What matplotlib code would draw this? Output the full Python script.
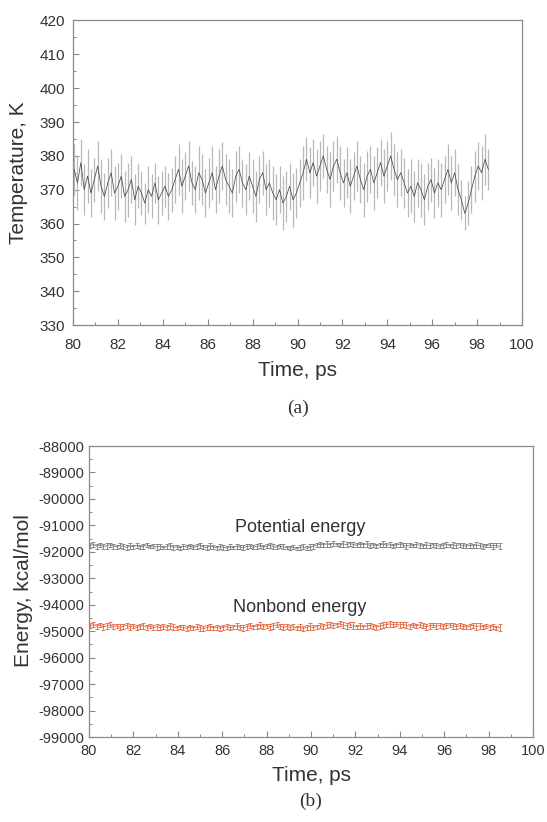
import numpy as np
import matplotlib
matplotlib.use("Agg")
import matplotlib.pyplot as plt
from matplotlib.ticker import MultipleLocator

# ---------------- data ----------------
time_ps = np.round(80.05 + 0.15 * np.arange(124), 3)

temp_mean = [
    376, 372, 378, 370, 374, 369, 373, 377, 371, 368,
    372, 375, 369, 371, 374, 368, 370, 373, 367, 371,
    369, 366, 370, 368, 372, 367, 369, 371, 368, 370,
    373, 376, 371, 374, 377, 372, 370, 375, 373, 369,
    372, 375, 370, 374, 377, 373, 371, 369, 374, 376,
    372, 370, 374, 371, 368, 373, 375, 370, 372, 369,
    367, 370, 366, 368, 371, 367, 369, 372, 375, 379,
    375, 378, 374, 377, 380, 376, 373, 377, 379, 375,
    372, 375, 371, 374, 377, 373, 370, 374, 376, 372,
    375, 378, 374, 377, 380, 376, 373, 375, 372, 369,
    371, 368, 372, 370, 367, 371, 373, 369, 372, 370,
    373, 376, 372, 375, 370, 367, 363, 366, 370, 374,
    377, 375, 379, 376,
]
temp_err = [
    7.5, 8, 7, 7.5, 8, 7, 6.5, 7.5, 8, 7,
    7.5, 7, 8, 7, 6.5, 7.5, 8, 7, 7.5, 6.5,
    6.5, 6, 7, 6.5, 6, 7, 6.5, 6, 7, 6.5,
    7, 7.5, 8, 7, 7.5, 6.5, 7, 8, 7.5, 7,
    7.5, 8, 7, 8, 7, 7.5, 8, 7, 7.5, 7,
    7, 7.5, 7, 8, 7.5, 7, 6.5, 7.5, 7, 8,
    7.5, 7, 8, 7.5, 7, 8, 7.5, 7, 8, 6.5,
    7.5, 7, 8, 7.5, 6.5, 7, 8, 7.5, 7, 8,
    7, 7.5, 8, 7, 7.5, 7, 8, 7.5, 7, 8,
    7.5, 7, 8, 7.5, 7, 7.5, 8, 7, 7.5, 7,
    8, 7.5, 7, 8, 7.5, 7, 6.5, 7.5, 7, 8,
    7, 7.5, 8, 7, 7.5, 6, 5, 6.5, 7, 7.5,
    7, 8, 7.5, 6,
]

potential_mean = [
    -91760, -91720, -91790, -91740, -91800, -91770, -91730, -91790, -91810, -91760,
    -91800, -91830, -91780, -91810, -91760, -91820, -91790, -91740, -91800, -91780,
    -91820, -91790, -91840, -91800, -91770, -91830, -91810, -91850, -91790, -91820,
    -91780, -91830, -91800, -91760, -91810, -91840, -91790, -91820, -91850, -91800,
    -91830, -91860, -91810, -91840, -91790, -91820, -91850, -91800, -91780, -91830,
    -91800, -91770, -91820, -91790, -91760, -91800, -91830, -91780, -91810, -91840,
    -91860, -91820, -91880, -91840, -91810, -91860, -91830, -91790, -91750, -91720,
    -91740, -91700, -91730, -91680, -91720, -91750, -91700, -91730, -91690, -91720,
    -91750, -91710, -91740, -91700, -91760, -91730, -91770, -91740, -91710, -91750,
    -91730, -91770, -91740, -91710, -91750, -91780, -91740, -91760, -91720, -91750,
    -91780, -91740, -91770, -91730, -91760, -91790, -91750, -91720, -91760, -91740,
    -91770, -91730, -91760, -91790, -91750, -91780, -91740, -91770, -91800, -91760,
    -91740, -91780, -91750, -91790,
]
potential_err = [
    90, 80, 100, 70, 90, 110, 80, 90, 70, 100,
    80, 90, 110, 70, 90, 80, 100, 90, 70, 80,
    100, 90, 70, 80, 110, 90, 80, 70, 100, 90,
    80, 70, 90, 100, 80, 90, 110, 70, 80, 90,
    100, 80, 90, 70, 100, 80, 90, 110, 80, 70,
    90, 100, 80, 70, 90, 110, 80, 90, 100, 70,
    80, 90, 70, 100, 90, 80, 110, 90, 70, 80,
    90, 100, 80, 90, 70, 80, 100, 90, 80, 110,
    70, 90, 80, 100, 90, 70, 80, 90, 110, 80,
    100, 80, 70, 90, 80, 100, 90, 70, 80, 90,
    80, 110, 90, 70, 100, 80, 90, 80, 70, 100,
    90, 80, 100, 70, 90, 80, 110, 90, 80, 70,
    90, 100, 80, 110,
]

nonbond_mean = [
    -94790, -94750, -94820, -94770, -94840, -94800, -94760, -94830, -94790, -94850,
    -94810, -94780, -94840, -94800, -94860, -94820, -94790, -94850, -94810, -94870,
    -94830, -94870, -94820, -94860, -94800, -94840, -94880, -94830, -94860, -94900,
    -94850, -94880, -94830, -94870, -94910, -94860, -94830, -94880, -94850, -94890,
    -94860, -94820, -94870, -94840, -94800, -94850, -94880, -94830, -94790, -94840,
    -94810, -94770, -94820, -94790, -94840, -94800, -94760, -94810, -94850, -94820,
    -94860, -94830, -94880, -94850, -94900, -94860, -94820, -94870, -94830, -94790,
    -94820, -94780, -94750, -94790, -94760, -94720, -94770, -94800, -94760, -94790,
    -94830, -94800, -94840, -94810, -94780, -94820, -94850, -94800, -94770, -94750,
    -94720, -94760, -94730, -94770, -94740, -94780, -94810, -94770, -94800, -94760,
    -94790, -94830, -94800, -94770, -94810, -94780, -94820, -94790, -94760, -94800,
    -94830, -94790, -94820, -94850, -94810, -94780, -94820, -94800, -94840, -94810,
    -94850, -94820, -94880, -94860,
]
nonbond_err = [
    100, 90, 110, 80, 100, 120, 90, 100, 80, 110,
    90, 100, 120, 80, 100, 90, 110, 100, 80, 90,
    110, 100, 80, 90, 120, 100, 90, 80, 110, 100,
    90, 80, 100, 110, 90, 100, 120, 80, 90, 100,
    110, 90, 100, 80, 110, 90, 100, 120, 90, 80,
    100, 110, 90, 80, 100, 120, 90, 100, 110, 80,
    90, 100, 80, 110, 100, 90, 120, 100, 80, 90,
    100, 110, 90, 100, 80, 90, 110, 100, 90, 120,
    80, 100, 90, 110, 100, 80, 90, 100, 120, 90,
    110, 90, 80, 100, 90, 110, 100, 80, 90, 100,
    90, 120, 100, 80, 110, 90, 100, 90, 80, 110,
    100, 90, 110, 80, 100, 90, 120, 100, 90, 80,
    100, 110, 90, 120,
]

xticks = [80, 82, 84, 86, 88, 90, 92, 94, 96, 98, 100]
temp_yticks = [330, 340, 350, 360, 370, 380, 390, 400, 410, 420]
energy_yticks = [-99000, -98000, -97000, -96000, -95000, -94000, -93000,
                 -92000, -91000, -90000, -89000, -88000]

# ---------------- style ----------------
plt.rcParams['font.family'] = ['Liberation Sans', 'DejaVu Sans']
plt.rcParams['axes.unicode_minus'] = False
SPINE = '#8a8a8a'
TXT = '#333333'
W, H = 547, 822

fig = plt.figure(figsize=(W/100, H/100), dpi=100)
ax1 = fig.add_axes([73/W, 1-325/H, (522-73)/W, (325-20.5)/H])
ax2 = fig.add_axes([89/W, 1-737/H, (533-89)/W, (737-446)/H])


def style(ax, xpad, ypad, size):
    for s in ax.spines.values():
        s.set_color(SPINE)
        s.set_linewidth(0.9)
    ax.tick_params(which='both', direction='in', colors=SPINE,
                   labelcolor=TXT, labelsize=size, top=False, right=False)
    ax.tick_params(which='major', length=4, width=0.8)
    ax.tick_params(which='minor', length=2.5, width=0.7)
    ax.tick_params(axis='x', which='major', pad=xpad)
    ax.tick_params(axis='y', which='major', pad=ypad)
    ax.set_xlim(80, 100)
    ax.set_xticks(xticks)
    ax.xaxis.set_minor_locator(MultipleLocator(1))


# Panel (a): temperature
style(ax1, 9, 6, 11)
ax1.errorbar(time_ps, temp_mean, yerr=temp_err, fmt='-', color='#4a4a4a',
             lw=0.55, ecolor='#b8b8b8', elinewidth=0.9, capsize=0)
ax1.set_ylim(330, 420)
ax1.set_yticks(temp_yticks)
ax1.yaxis.set_minor_locator(MultipleLocator(5))

# Panel (b): energies
style(ax2, 5, 3.5, 10.5)
ax2.errorbar(time_ps, potential_mean, yerr=potential_err, fmt='-',
             color='#7a7a7a', lw=0.6, ecolor='#7a7a7a', elinewidth=0.6,
             capsize=1.2, capthick=0.6)
ax2.errorbar(time_ps, nonbond_mean, yerr=nonbond_err, fmt='-',
             color='#e2663e', lw=0.6, ecolor='#e2663e', elinewidth=0.6,
             capsize=1.2, capthick=0.6)
ax2.set_ylim(-99000, -88000)
ax2.set_yticks(energy_yticks)
ax2.yaxis.set_minor_locator(MultipleLocator(500))
ax2.text(89.5, -91080, 'Potential energy', ha='center', va='center',
         fontsize=13, color=TXT)
ax2.text(89.5, -94100, 'Nonbond energy', ha='center', va='center',
         fontsize=13, color=TXT)

# axis titles
LBL = 15
fig.text(298/W, 1-370/H, 'Time, ps', ha='center', va='center',
         fontsize=LBL, color=TXT)
fig.text(19/W, 1-173/H, 'Temperature, K', ha='center', va='center',
         rotation=90, fontsize=LBL, color=TXT)
fig.text(311/W, 1-775/H, 'Time, ps', ha='center', va='center',
         fontsize=LBL, color=TXT)
fig.text(24/W, 1-591/H, 'Energy, kcal/mol', ha='center', va='center',
         rotation=90, fontsize=LBL, color=TXT)

fig.text(298/W, 1-408/H, '(a)', ha='center', va='center',
         fontsize=14, color=TXT, family=['Liberation Serif', 'DejaVu Serif'])
fig.text(311/W, 1-801/H, '(b)', ha='center', va='center',
         fontsize=14, color=TXT, family=['Liberation Serif', 'DejaVu Serif'])

fig.savefig('out.png', dpi=100)
